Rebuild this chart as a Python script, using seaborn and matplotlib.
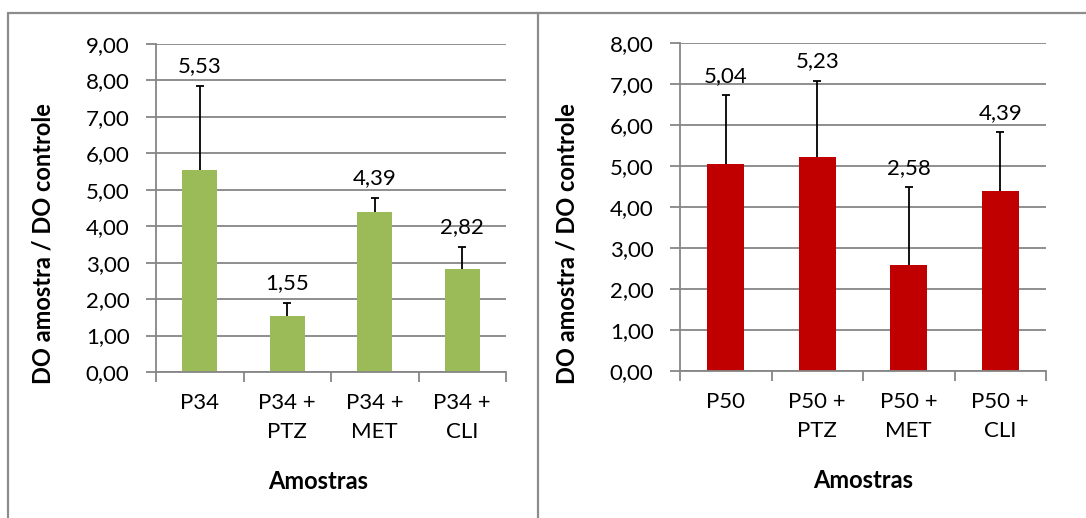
import matplotlib
matplotlib.use("Agg")
import matplotlib.pyplot as plt
import seaborn as sns
import pandas as pd
import numpy as np
from matplotlib.lines import Line2D
from matplotlib.ticker import FuncFormatter, MultipleLocator, FixedLocator

# ---- data ----
left_categories = ["P34", "P34 +\nPTZ", "P34 +\nMET", "P34 +\nCLI"]
left_values = [5.53, 1.55, 4.39, 2.82]
left_errors = [2.32, 0.35, 0.39, 0.61]

right_categories = ["P50", "P50 +\nPTZ", "P50 +\nMET", "P50 +\nCLI"]
right_values = [5.04, 5.23, 2.58, 4.39]
right_errors = [1.68, 1.85, 1.90, 1.43]

y_label = "DO amostra / DO controle"
x_label = "Amostras"

GREEN = "#9BBB59"
RED = "#C00000"
GRID = "#868686"

sns.set_theme(style="white")
plt.rcParams["font.family"] = ["Lato", "DejaVu Sans"]

W, H = 1086, 518
fig = plt.figure(figsize=(W / 100, H / 100), dpi=100)
fig.patch.set_facecolor("white")

FS = 16
FSB = 17


def px_axes(x0, x1, ytop, ybot):
    return fig.add_axes([x0 / W, 1 - ybot / H, (x1 - x0) / W, (ybot - ytop) / H])


def draw(ax, cats, vals, errs, color, ymax, xlab_x):
    df = pd.DataFrame({"cat": cats, "val": vals})
    sns.barplot(data=df, x="cat", y="val", color=color, width=0.4,
                saturation=1, ax=ax, errorbar=None)
    for p in ax.patches:
        p.set_edgecolor("none")
    xs = np.arange(len(vals))
    tops = np.array(vals) + np.array(errs)
    ax.vlines(xs, vals, tops, color="black", linewidth=1.3, zorder=4)
    ax.hlines(tops, xs - 0.045, xs + 0.045, color="black", linewidth=1.3, zorder=4)
    for x, v, t in zip(xs, vals, tops):
        ax.annotate(f"{v:.2f}".replace(".", ","), (x, t), xytext=(0, 7),
                    textcoords="offset points", ha="center", va="bottom",
                    fontsize=FS, color="black")
    ax.set_ylim(0, ymax)
    ax.set_xlim(-0.5, len(vals) - 0.5)
    ax.yaxis.set_major_locator(MultipleLocator(1))
    ax.yaxis.set_major_formatter(FuncFormatter(lambda v, p: f"{v:.2f}".replace(".", ",")))
    ax.grid(axis="y", color=GRID, linewidth=1.3)
    ax.grid(axis="x", visible=False)
    ax.set_axisbelow(True)
    for s in ["top", "right"]:
        ax.spines[s].set_visible(False)
    for s in ["left", "bottom"]:
        ax.spines[s].set_color(GRID)
        ax.spines[s].set_linewidth(1.3)
    ax.tick_params(axis="y", which="major", left=True, length=7, width=1.3,
                   color=GRID, labelsize=FS, pad=12, labelcolor="black")
    ax.xaxis.set_minor_locator(FixedLocator(np.arange(-0.5, len(vals), 1.0)))
    ax.tick_params(axis="x", which="major", bottom=False, length=0, labelsize=FS, pad=15,
                   labelcolor="black")
    ax.tick_params(axis="x", which="minor", bottom=True, length=7, width=1.3, color=GRID)
    for t in ax.get_xticklabels():
        t.set_linespacing(1.6)
        t.set_verticalalignment("top")
    ax.set_xlabel(x_label, fontsize=FSB, fontweight="bold", color="black")
    ax.set_ylabel(y_label, fontsize=FSB, fontweight="bold", color="black")
    ax.xaxis.set_label_coords(xlab_x, -0.30)


axL = px_axes(156, 506, 44, 372)
draw(axL, left_categories, left_values, left_errors, GREEN, 9, 0.463)
axL.yaxis.set_label_coords(-0.289, 0.393)

axR = px_axes(680, 1046, 43, 371)
draw(axR, right_categories, right_values, right_errors, RED, 8, 0.5)
axR.yaxis.set_label_coords(-0.276, 0.39)

# panel borders
bc = "#8C8C8C"
def fline(xs, ys):
    fig.add_artist(Line2D([x / W for x in xs], [1 - y / H for y in ys],
                          color=bc, linewidth=1.6, transform=fig.transFigure))

fline([8, 8], [13, 520])
fline([8, 538], [13, 13])
fline([538, 538], [13, 520])
fline([538, 1090], [13, 13])

fig.savefig("out.png", dpi=100)
